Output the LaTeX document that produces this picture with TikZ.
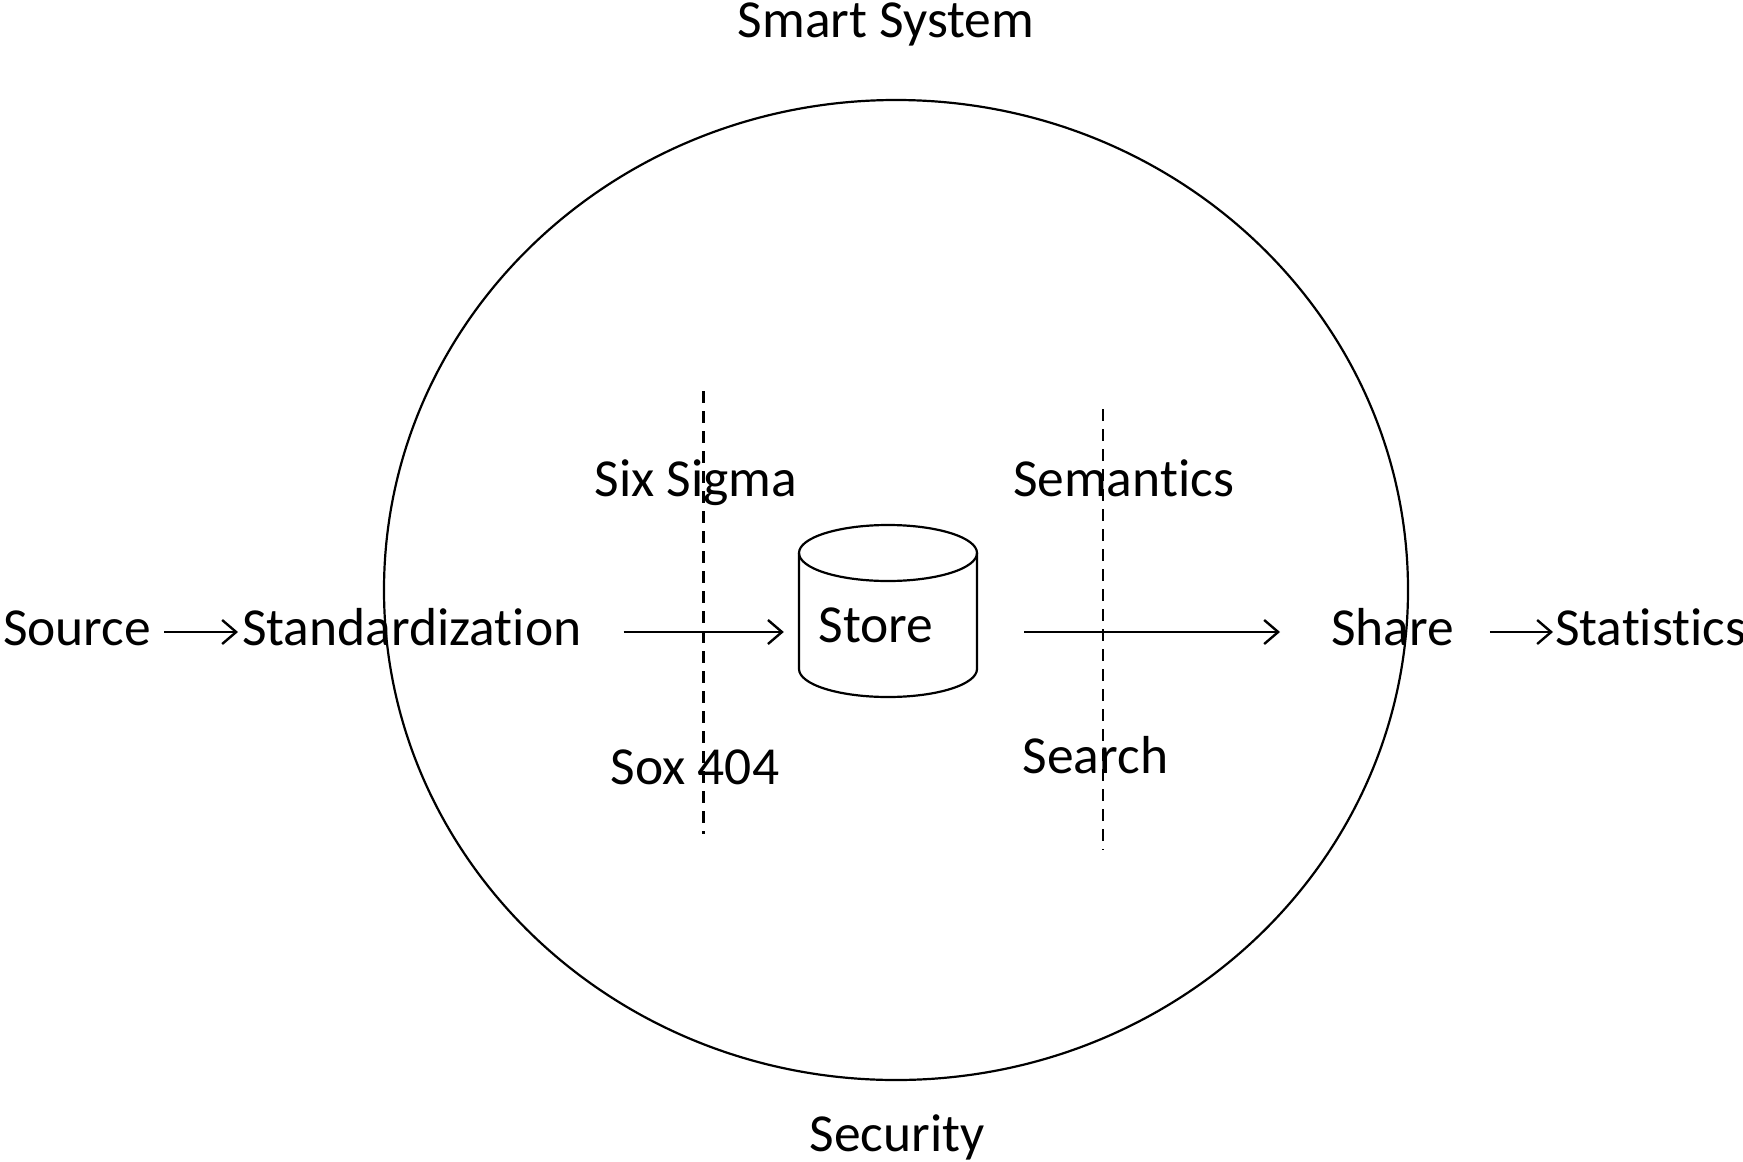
\documentclass[tikz,border=0pt]{standalone}
\usepackage{fontspec}
\setmainfont{Carlito}[RawFeature=-liga, RawFeature=-clig, RawFeature=-calt, RawFeature=-dlig]
\usetikzlibrary{arrows.meta}

\tikzset{
  lbl/.style={font=\fontsize{53.5}{60}\selectfont, inner sep=0pt, outer sep=0pt,
              text height=26pt, text depth=0pt, anchor=base west},
  freelbl/.style={font=\fontsize{53.5}{60}\selectfont, inner sep=0pt, anchor=base},
  flow/.style={line width=2.4pt, -{Straight Barb[length=14pt,width=24pt,line width=2.4pt]}},
  divider/.style={line width=2.4pt, dash pattern=on 12pt off 8pt},
  outline/.style={line width=2.2pt}
}

\begin{document}
\begin{tikzpicture}[x=1pt,y=1pt]
  \useasboundingbox (0,0) rectangle (1743,-1162);

  % system boundary
  \draw[outline] (896,-590) ellipse [x radius=512, y radius=490];

  % titles
  \node[freelbl] (title) at (886,-37) {Smart System};
  \node[freelbl] (sec) at (897,-1151) {Security};

  % main flow labels
  \node[lbl] (src) at (3,-645) {Source};
  \node[lbl] (std) at (242,-645) {Standardization};
  \node[lbl] (shr) at (1331,-645) {Share};
  \node[lbl] (sta) at (1555,-645) {Statistics};

  % data store (cylinder)
  \node[minimum width=178pt, minimum height=172pt, inner sep=0pt] (db) at (888,-611) {};
  \draw[outline] (888,-553) ellipse [x radius=89, y radius=28];
  \draw[outline] (799,-553) -- (799,-669)
        arc[start angle=180, end angle=360, x radius=89, y radius=28]
        -- (977,-553);
  \node[freelbl] (store) at (876,-642) {Store};

  % quality gates
  \draw[divider] (703.6,-391) coordinate (g1a) -- (703.6,-834) coordinate (g1b);
  \draw[divider] (1103,-409) coordinate (g2a) -- (1103,-850) coordinate (g2b);
  \node[freelbl] (six) at (696,-496) {Six Sigma};
  \node[freelbl] (sox) at (695,-784) {Sox 404};
  \node[freelbl] (sem) at (1123.5,-496) {Semantics};
  \node[freelbl] (sea) at (1095.5,-773) {Search};

  % connectors
  \draw[flow] ([xshift=13pt]src.east) -- ([xshift=-4pt]std.west);
  \draw[flow] ([xshift=42pt]std.east) -- ([xshift=-15pt]db.west |- std.east);
  \draw[flow] ([xshift=47pt]db.east |- shr.west) -- ([xshift=-51pt]shr.west);
  \draw[flow] ([xshift=36pt]shr.east) -- ([xshift=-2pt]sta.west);
\end{tikzpicture}
\end{document}
